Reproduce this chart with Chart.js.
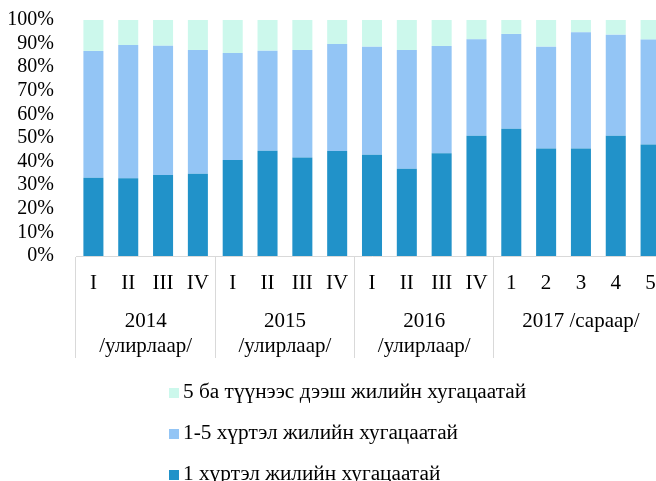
<!DOCTYPE html>
<html>
<head>
<meta charset="utf-8">
<script src="https://cdn.jsdelivr.net/npm/chart.js"></script>
<style>
  html, body { margin: 0; padding: 0; background: #fff; }
  #wrap { position: relative; width: 656px; height: 481px; overflow: hidden; }
  #myChart { position: absolute; left: 0; top: 0; }
  #legend { position: absolute; left: 169px; top: 371px; font: 21.3px "Liberation Serif", serif; color: #000; }
  .item { display: flex; align-items: center; height: 41px; white-space: nowrap; }
  .box { width: 10px; height: 10px; margin-right: 4px; margin-top: 3px; }
</style>
</head>
<body>
<div id="wrap">
  <canvas id="myChart" width="680" height="481"></canvas>
  <div id="legend"></div>
</div>
<script>
// quarters / months along the x axis
const periods = ['I', 'II', 'III', 'IV', 'I', 'II', 'III', 'IV', 'I', 'II', 'III', 'IV', '1', '2', '3', '4', '5'];
const groupLabels = [['2014', '/улирлаар/'], ['2015', '/улирлаар/'], ['2016', '/улирлаар/'], ['2017 /сараар/']];
const groupSizes = [4, 4, 4, 5];

// shares, %
const upTo1 = [33.2, 32.9, 34.3, 34.9, 40.7, 44.6, 41.7, 44.5, 42.9, 37.0, 43.5, 51.0, 53.9, 45.6, 45.5, 51.0, 47.2];
const from1to5 = [53.7, 56.5, 54.8, 52.4, 45.3, 42.4, 45.6, 45.3, 45.8, 50.3, 45.5, 40.8, 40.2, 43.1, 49.3, 42.8, 44.5];
const over5 = [13.1, 10.6, 10.9, 12.7, 14.0, 13.0, 12.7, 10.2, 11.3, 12.7, 11.0, 8.2, 5.9, 11.3, 5.2, 6.2, 8.3];

const groupStarts = [];
const groupCenters = [];
let acc = 0;
groupSizes.forEach(n => {
    groupStarts.push(acc);
    groupCenters.push(acc + (n - 1) / 2);
    acc += n;
});

const serif = '"Liberation Serif", serif';
const ctx = document.getElementById('myChart');

const chart = new Chart(ctx, {
    type: 'bar',
    data: {
        labels: periods,
        datasets: [
            {
                label: '1 хүртэл жилийн хугацаатай',
                data: upTo1,
                backgroundColor: '#2192c9',
            },
            {
                label: '1-5 хүртэл жилийн хугацаатай',
                data: from1to5,
                backgroundColor: '#93c5f5',
            },
            {
                label: '5 ба түүнээс дээш жилийн хугацаатай',
                data: over5,
                backgroundColor: '#ccf8ec',
            }
        ]
    },
    options: {
        responsive: false,
        animation: false,
        datasets: { bar: { categoryPercentage: 1, barPercentage: 0.575 } },
        layout: { padding: { left: 8, right: 12, top: 20, bottom: 121.5 } },
        plugins: {
            legend: { display: false },
            tooltip: { enabled: false },
        },
        scales: {
            x: {
                stacked: true,
                offset: true,
                grid: {
                    offset: true,
                    drawOnChartArea: false,
                    tickLength: 102,
                    color: c => (c.type === 'tick' && groupStarts.includes(c.index)) ? '#d9d9d9' : 'rgba(0,0,0,0)',
                },
                border: { color: '#d9d9d9', width: 1 },
                ticks: { padding: -87.6, font: { family: serif, size: 21 }, color: '#000', maxRotation: 0, autoSkip: false },
                afterFit: s => { s.height = 38.5; },
            },
            x2: {
                type: 'linear',
                position: 'bottom',
                weight: 1,
                offset: false,
                min: -0.5,
                max: periods.length - 0.5,
                grid: { display: false, drawTicks: false, offset: false },
                border: { display: false },
                afterBuildTicks: s => { s.ticks = groupCenters.map(v => ({ value: v })); },
                ticks: {
                    autoSkip: false,
                    maxRotation: 0,
                    padding: 13.75,
                    font: { family: serif, size: 21, lineHeight: 1.22 },
                    color: '#000',
                    callback: (v, i) => groupLabels[i],
                },
                afterFit: s => { s.height = 65; },
            },
            y: {
                stacked: true,
                min: 0,
                max: 100,
                grid: { display: false, drawTicks: false },
                border: { display: false },
                ticks: { stepSize: 10, padding: 22, autoSkip: false, font: { family: serif, size: 20 }, color: '#000', callback: v => v + '%' },
                afterFit: s => { s.width = 68; s.paddingTop = 0; s.paddingBottom = 0; },
            },
        },
    },
});

// vertical legend, top item is the top of the stack
const legendEl = document.getElementById('legend');
chart.data.datasets.slice().reverse().forEach(ds => {
    const row = document.createElement('div');
    row.className = 'item';
    const box = document.createElement('span');
    box.className = 'box';
    box.style.background = ds.backgroundColor;
    const txt = document.createElement('span');
    txt.textContent = ds.label;
    row.appendChild(box);
    row.appendChild(txt);
    legendEl.appendChild(row);
});
</script>
</body>
</html>
